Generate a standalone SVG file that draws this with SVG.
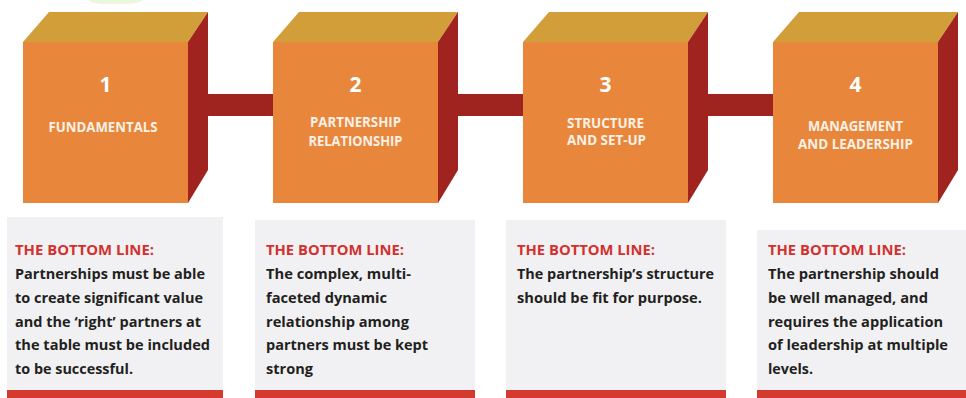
<svg xmlns="http://www.w3.org/2000/svg" width="966" height="398" viewBox="0 0 966 398">
<style>
.front{fill:#E8873C}
.top{fill:#D29E3A}
.side{fill:#A0231F}
.bar{fill:#9F2420}
.num{font-family:"Open Sans","Liberation Sans",sans-serif;font-weight:bold;font-size:21px;fill:#FFFFFF;text-anchor:middle}
.lbl{font-family:"Open Sans","Liberation Sans",sans-serif;font-weight:bold;font-size:13.5px;fill:#FDF1E6;text-anchor:middle}
.box{fill:#F1F1F3}
.strip{fill:#D43A2E}
.hd{font-family:"Open Sans","Liberation Sans",sans-serif;font-weight:bold;font-size:15px;fill:#D2312F}
.bd{font-family:"Open Sans","Liberation Sans",sans-serif;font-weight:bold;font-size:15px;fill:#231F20}
</style>
<rect x="0" y="0" width="966" height="398" fill="#FFFFFF"/>
<path d="M88,0 L143,0 Q138,4 125,4 L106,4 Q93,4 88,0 Z" fill="#EEF5DD"/>
<g id="connectors">
<rect class="bar" x="205" y="94" width="70" height="22"/>
<rect class="bar" x="455" y="94" width="70" height="22"/>
<rect class="bar" x="705" y="94" width="70" height="22"/>
</g>
<g id="cube1">
<polygon class="top" points="23,42 49,12 208,12 188,42"/>
<polygon class="side" points="188,42 208,12 208,170 188,203"/>
<rect class="front" x="23" y="42" width="165" height="161"/>
<text class="num" x="105.5" y="92">1</text>
<text class="lbl" x="103" y="132" textLength="109" lengthAdjust="spacingAndGlyphs">FUNDAMENTALS</text>
</g>
<g id="cube2">
<polygon class="top" points="273,42 299,12 458,12 438,42"/>
<polygon class="side" points="438,42 458,12 458,170 438,203"/>
<rect class="front" x="273" y="42" width="165" height="161"/>
<text class="num" x="355.5" y="92">2</text>
<text class="lbl" x="355.5" y="127" textLength="91" lengthAdjust="spacingAndGlyphs">PARTNERSHIP</text>
<text class="lbl" x="355.5" y="146" textLength="94" lengthAdjust="spacingAndGlyphs">RELATIONSHIP</text>
</g>
<g id="cube3">
<polygon class="top" points="523,42 549,12 708,12 688,42"/>
<polygon class="side" points="688,42 708,12 708,170 688,203"/>
<rect class="front" x="523" y="42" width="165" height="161"/>
<text class="num" x="605.5" y="92">3</text>
<text class="lbl" x="605.5" y="128" textLength="77" lengthAdjust="spacingAndGlyphs">STRUCTURE</text>
<text class="lbl" x="606.5" y="145" textLength="79" lengthAdjust="spacingAndGlyphs">AND SET-UP</text>
</g>
<g id="cube4">
<polygon class="top" points="773,42 799,12 958,12 938,42"/>
<polygon class="side" points="938,42 958,12 958,170 938,203"/>
<rect class="front" x="773" y="42" width="165" height="161"/>
<text class="num" x="855.5" y="92">4</text>
<text class="lbl" x="855.5" y="131.2" textLength="95" lengthAdjust="spacingAndGlyphs">MANAGEMENT</text>
<text class="lbl" x="855.5" y="148.6" textLength="115" lengthAdjust="spacingAndGlyphs">AND LEADERSHIP</text>
</g>
<g id="box1">
<rect class="box" x="7" y="217" width="216" height="181"/>
<rect class="strip" x="7" y="390" width="216" height="8"/>
<text class="hd" x="15" y="255" textLength="139" lengthAdjust="spacingAndGlyphs">THE BOTTOM LINE:</text>
<text class="bd" x="15" y="279" textLength="190" lengthAdjust="spacingAndGlyphs">Partnerships must be able</text>
<text class="bd" x="15" y="303" textLength="188" lengthAdjust="spacingAndGlyphs">to create significant value</text>
<text class="bd" x="15" y="327" textLength="186" lengthAdjust="spacingAndGlyphs">and the ‘right’ partners at</text>
<text class="bd" x="15" y="350" textLength="195" lengthAdjust="spacingAndGlyphs">the table must be included</text>
<text class="bd" x="15" y="374" textLength="118" lengthAdjust="spacingAndGlyphs">to be successful.</text>
</g>
<g id="box2">
<rect class="box" x="255" y="220" width="220" height="178"/>
<rect class="strip" x="255" y="390" width="220" height="8"/>
<text class="hd" x="266" y="255" textLength="138" lengthAdjust="spacingAndGlyphs">THE BOTTOM LINE:</text>
<text class="bd" x="266" y="279" textLength="145" lengthAdjust="spacingAndGlyphs">The complex, multi-</text>
<text class="bd" x="266" y="303" textLength="121" lengthAdjust="spacingAndGlyphs">faceted dynamic</text>
<text class="bd" x="266" y="327" textLength="143" lengthAdjust="spacingAndGlyphs">relationship among</text>
<text class="bd" x="266" y="350" textLength="162" lengthAdjust="spacingAndGlyphs">partners must be kept</text>
<text class="bd" x="266" y="374" textLength="47" lengthAdjust="spacingAndGlyphs">strong</text>
</g>
<g id="box3">
<rect class="box" x="506" y="220" width="220" height="178"/>
<rect class="strip" x="506" y="390" width="220" height="8"/>
<text class="hd" x="517" y="255" textLength="138" lengthAdjust="spacingAndGlyphs">THE BOTTOM LINE:</text>
<text class="bd" x="517" y="279" textLength="197" lengthAdjust="spacingAndGlyphs">The partnership’s structure</text>
<text class="bd" x="517" y="303" textLength="185" lengthAdjust="spacingAndGlyphs">should be fit for purpose.</text>
</g>
<g id="box4">
<rect class="box" x="757" y="230" width="209" height="168"/>
<rect class="strip" x="757" y="390" width="209" height="8"/>
<text class="hd" x="768" y="255" textLength="138" lengthAdjust="spacingAndGlyphs">THE BOTTOM LINE:</text>
<text class="bd" x="768" y="279" textLength="171" lengthAdjust="spacingAndGlyphs">The partnership should</text>
<text class="bd" x="768" y="303" textLength="160" lengthAdjust="spacingAndGlyphs">be well managed, and</text>
<text class="bd" x="768" y="327" textLength="175" lengthAdjust="spacingAndGlyphs">requires the application</text>
<text class="bd" x="768" y="350" textLength="180" lengthAdjust="spacingAndGlyphs">of leadership at multiple</text>
<text class="bd" x="768" y="374" textLength="45" lengthAdjust="spacingAndGlyphs">levels.</text>
</g>
</svg>
